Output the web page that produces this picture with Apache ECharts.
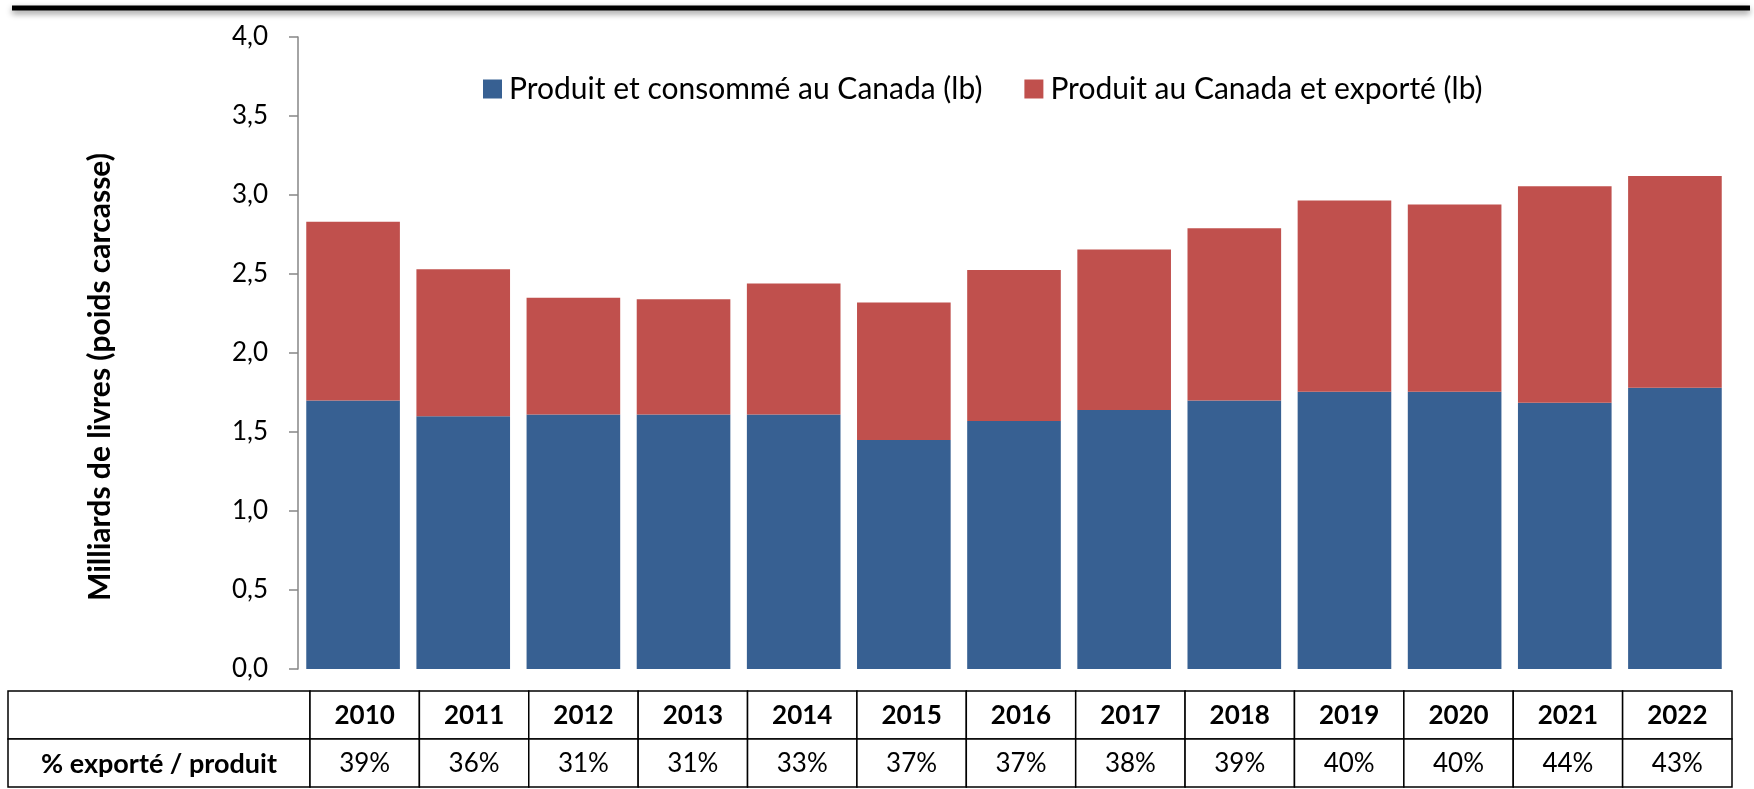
<!DOCTYPE html>
<html>
<head>
<meta charset="utf-8">
<script src="https://cdn.jsdelivr.net/npm/echarts@6/dist/echarts.min.js"></script>
<style>
  html, body { margin: 0; padding: 0; background: #fff; }
  #chart { width: 1754px; height: 789px; }
</style>
</head>
<body>
<div id="chart"></div>
<script>
// ---- Data ----
const years = ['2010','2011','2012','2013','2014','2015','2016','2017','2018','2019','2020','2021','2022'];
const consumedCanada = [1.70, 1.60, 1.61, 1.61, 1.61, 1.45, 1.57, 1.64, 1.70, 1.755, 1.755, 1.685, 1.78];
const exportedCanada = [1.13, 0.93, 0.74, 0.73, 0.83, 0.87, 0.955, 1.015, 1.09, 1.21, 1.185, 1.37, 1.34];
const pctExported = [39, 36, 31, 31, 33, 37, 37, 38, 39, 40, 40, 44, 43];
const seriesNames = ['Produit et consommé au Canada (lb)', 'Produit au Canada et exporté (lb)'];
const yAxisTitle = 'Milliards de livres (poids carcasse)';
const tableRowLabel = '% exporté / produit';

// ---- Style ----
const FONT = 'Lato, "Open Sans", sans-serif';
const BLUE = '#376092';
const RED = '#C0504D';
const AXIS_GRAY = '#868686';
const TABLE = { left: 8, headerRight: 310, right: 22, top: 691, rowH: 48 };

const tableData = [];
years.forEach((y, i) => { tableData.push([i, 0]); tableData.push([i, 1]); });

const chart = echarts.init(document.getElementById('chart'), null, { renderer: 'canvas' });

chart.setOption({
  animation: false,
  backgroundColor: '#fff',
  textStyle: { fontFamily: FONT },
  legend: {
    left: 478, top: 69,
    itemWidth: 19, itemHeight: 19, itemGap: 42,
    icon: 'rect',
    textStyle: { fontFamily: FONT, fontSize: 30, color: '#000', padding: [0, 0, 0, 2] },
    data: seriesNames
  },
  grid: [
    { left: 298, right: 24, top: 37, bottom: 120 },
    { left: TABLE.headerRight, right: TABLE.right, top: TABLE.top, height: TABLE.rowH * 2 }
  ],
  xAxis: [
    { type: 'category', gridIndex: 0, data: years,
      axisLine: { show: false }, axisTick: { show: false }, axisLabel: { show: false } },
    { type: 'category', gridIndex: 1, data: years, show: false }
  ],
  yAxis: [
    { type: 'value', gridIndex: 0, min: 0, max: 4, interval: 0.5,
      axisLine: { show: true, lineStyle: { color: AXIS_GRAY, width: 1.5 } },
      axisTick: { show: true, length: 9, lineStyle: { color: AXIS_GRAY, width: 1.5 } },
      splitLine: { show: false },
      axisLabel: { margin: 30, fontFamily: FONT, fontSize: 26, color: '#000',
        formatter: v => v.toFixed(1).replace('.', ',') } },
    { type: 'category', gridIndex: 1, data: ['years', 'pct'], inverse: true, show: false }
  ],
  series: [
    { name: seriesNames[0], type: 'bar', stack: 'total', data: consumedCanada,
      xAxisIndex: 0, yAxisIndex: 0, barCategoryGap: '15%',
      itemStyle: { color: BLUE } },
    { name: seriesNames[1], type: 'bar', stack: 'total', data: exportedCanada,
      xAxisIndex: 0, yAxisIndex: 0, barCategoryGap: '15%',
      itemStyle: { color: RED } },
    { type: 'custom', xAxisIndex: 1, yAxisIndex: 1, data: tableData,
      renderItem: (params, api) => {
        const i = api.value(0), row = api.value(1);
        const c = api.coord([i, row]);
        const s = api.size([1, 1]);
        const text = row === 0 ? years[i] : pctExported[i] + '%';
        return { type: 'group', children: [
          { type: 'rect', shape: { x: c[0] - s[0] / 2, y: c[1] - s[1] / 2, width: s[0], height: s[1] },
            style: { fill: '#fff', stroke: '#000', lineWidth: 1.5 } },
          { type: 'text', style: { text: text, x: c[0], y: c[1] + 1, align: 'center', verticalAlign: 'middle',
            fill: '#000', font: (row === 0 ? 'bold ' : '') + '26px ' + FONT } }
        ] };
      } }
  ],
  graphic: [
    { type: 'line', shape: { x1: 12, y1: 8, x2: 1750, y2: 8 },
      style: { stroke: '#000', lineWidth: 5, shadowBlur: 6, shadowOffsetY: 3, shadowColor: 'rgba(0,0,0,0.45)' } },
    { type: 'text', x: 100, y: 377, rotation: Math.PI / 2,
      style: { text: yAxisTitle, align: 'center', verticalAlign: 'middle', fill: '#000',
        font: 'bold 30px ' + FONT } },
    { type: 'rect', shape: { x: TABLE.left, y: TABLE.top, width: TABLE.headerRight - TABLE.left, height: TABLE.rowH },
      style: { fill: '#fff', stroke: '#000', lineWidth: 1.5 } },
    { type: 'rect', shape: { x: TABLE.left, y: TABLE.top + TABLE.rowH, width: TABLE.headerRight - TABLE.left, height: TABLE.rowH },
      style: { fill: '#fff', stroke: '#000', lineWidth: 1.5 } },
    { type: 'text', x: (TABLE.left + TABLE.headerRight) / 2, y: TABLE.top + TABLE.rowH * 1.5 + 1,
      style: { text: tableRowLabel, align: 'center', verticalAlign: 'middle', fill: '#000',
        font: 'bold 27px ' + FONT } }
  ]
});
</script>
</body>
</html>
